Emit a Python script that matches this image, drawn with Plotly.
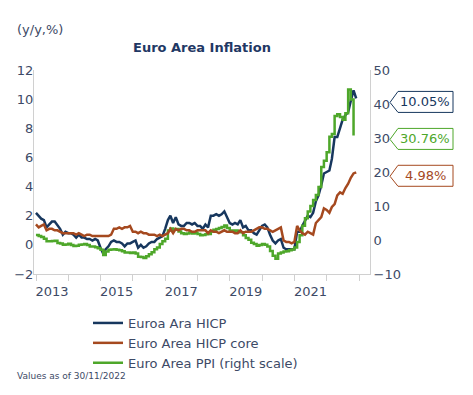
import pandas as pd
import plotly.graph_objects as go

# ---- data (monthly, month-end dates) ----
hicp_dates = pd.date_range("2012-12-31", "2022-11-30", freq="ME")
ppi_dates = pd.date_range("2012-12-31", "2022-10-31", freq="ME")

hicp = [2.2,
        2.0, 1.8, 1.7, 1.2, 1.4, 1.6, 1.6, 1.3, 1.1, 0.7, 0.9, 0.8,
        0.8, 0.7, 0.5, 0.7, 0.5, 0.5, 0.4, 0.4, 0.3, 0.4, 0.3, -0.2,
        -0.6, -0.3, -0.1, 0.2, 0.3, 0.2, 0.2, 0.1, -0.1, 0.1, 0.1, 0.2,
        0.3, -0.2, 0.0, -0.2, -0.1, 0.1, 0.2, 0.2, 0.4, 0.5, 0.6, 1.1,
        1.7, 2.0, 1.5, 1.9, 1.4, 1.3, 1.3, 1.5, 1.5, 1.4, 1.5, 1.3,
        1.3, 1.1, 1.4, 1.2, 2.0, 2.0, 2.1, 2.0, 2.1, 2.3, 1.9, 1.5,
        1.4, 1.5, 1.4, 1.7, 1.2, 1.3, 1.0, 1.0, 0.8, 0.7, 1.0, 1.3,
        1.4, 1.2, 0.7, 0.3, 0.1, 0.3, 0.4, -0.2, -0.3, -0.3, -0.3, -0.3,
        0.9, 0.9, 1.3, 1.6, 2.0, 1.9, 2.2, 3.0, 3.4, 4.1, 4.9, 5.0,
        5.1, 5.9, 7.4, 7.4, 8.1, 8.6, 8.9, 9.1, 9.9, 10.6, 10.05]

core = [1.4,
        1.2, 1.3, 1.4, 1.0, 1.1, 1.1, 1.0, 1.0, 0.9, 0.8, 0.8, 0.8,
        0.8, 0.8, 0.7, 0.8, 0.7, 0.6, 0.7, 0.7, 0.6, 0.6, 0.6, 0.6,
        0.6, 0.6, 0.6, 0.7, 1.1, 1.1, 1.2, 1.1, 1.2, 1.2, 1.3, 0.9,
        0.9, 0.8, 0.9, 0.8, 0.8, 0.7, 0.7, 0.7, 0.6, 0.7, 0.6, 0.7,
        0.8, 1.1, 0.8, 1.1, 1.0, 1.1, 1.1, 1.0, 1.0, 0.9, 0.9, 1.0,
        1.0, 1.0, 1.0, 0.8, 1.0, 0.9, 0.9, 0.8, 0.9, 1.0, 0.9, 0.9,
        0.9, 0.8, 0.8, 1.0, 0.8, 0.9, 0.9, 0.9, 1.0, 1.1, 1.2, 1.2,
        1.1, 1.1, 1.0, 0.9, 1.0, 1.1, 1.2, 0.3, 0.2, 0.2, 0.1, 0.2,
        1.3, 1.0, 0.8, 0.7, 0.9, 0.8, 0.7, 1.5, 1.7, 1.9, 2.5, 2.4,
        2.2, 2.6, 2.8, 3.4, 3.6, 3.5, 3.9, 4.2, 4.6, 4.9, 4.98]

ppi = [1.5,
       1.2, 0.9, 0.4, -0.4, -0.4, -0.3, -0.2, -0.9, -1.0, -1.4, -1.3, -1.1,
       -1.5, -1.8, -1.7, -1.4, -1.3, -1.2, -1.5, -1.9, -1.9, -2.1, -2.4, -2.9,
       -4.4, -3.4, -2.9, -2.8, -2.7, -2.9, -3.0, -3.3, -3.7, -3.7, -3.8, -3.7,
       -4.0, -4.9, -5.0, -5.3, -4.8, -4.2, -3.6, -2.7, -2.2, -1.2, -0.4, 0.4,
       2.8, 3.4, 3.0, 3.2, 2.5, 2.0, 1.8, 1.9, 2.2, 1.9, 2.1, 1.8,
       1.4, 1.5, 1.7, 1.8, 2.5, 3.0, 3.2, 3.5, 3.8, 4.3, 3.5, 2.8,
       2.7, 2.8, 2.6, 2.3, 1.4, 0.6, 0.1, -0.8, -1.2, -1.7, -1.5, -1.2,
       -1.4, -1.9, -3.2, -4.6, -5.5, -4.0, -3.7, -3.4, -3.3, -3.0, -2.8, -2.2,
       -0.6, 1.4, 4.2, 6.4, 8.4, 10.0, 11.8, 13.2, 15.6, 21.5, 23.3, 25.8,
       30.4, 31.2, 36.5, 37.0, 36.2, 35.4, 37.3, 44.3, 41.3, 30.76]

names = ["Euroa Ara HICP", "Euro Area HICP core", "Euro Area PPI (right scale)"]
last_labels = ["10.05%", "30.76%", "4.98%"]
year_labels = ["2013", "2015", "2017", "2019", "2021"]
tick_years = list(range(2013, 2024))

C_BLUE = "#17375e"
C_CORE = "#a5491f"
C_PPI = "#4ea72a"
TXT = "#3d4a66"
AXC = "#d0d0d0"
FONT = "DejaVu Sans"
XRANGE = ["2012-12-09", "2023-05-05"]

# page has an 8px body margin; figure is sized so that screen coords match
OFF = 8
W, H = 473 - 2 * OFF, 395 - 2 * OFF
PW, PH = 336, 204
L, T = 34 - OFF, 70 - OFF
R, B = W - L - PW, H - T - PH


def px(xs):
    return (xs - OFF - L) / PW


def py(ys):
    return (T + PH - (ys - OFF)) / PH


fig = go.Figure()
fig.add_trace(go.Scatter(x=hicp_dates, y=hicp, name=names[0], mode="lines",
                         line=dict(color=C_BLUE, width=2.5)))
fig.add_trace(go.Scatter(x=hicp_dates, y=core, name=names[1], mode="lines",
                         xaxis="x2", line=dict(color=C_CORE, width=2.5)))
fig.add_trace(go.Scatter(x=ppi_dates, y=ppi, name=names[2], mode="lines", yaxis="y2",
                         line=dict(color=C_PPI, width=2.5, shape="hv")))

fig.update_layout(
    width=W, height=H,
    margin=dict(l=L, r=R, t=T, b=B, autoexpand=False),
    paper_bgcolor="white", plot_bgcolor="white",
    font=dict(family=FONT, size=13, color=TXT),
    showlegend=True,
    legend=dict(xref="paper", yref="paper", x=px(88), y=py(308),
                xanchor="left", yanchor="top", font=dict(size=13, color=TXT),
                bgcolor="rgba(0,0,0,0)", tracegroupgap=0),
    # year-boundary tick marks
    xaxis=dict(range=XRANGE, showline=True, linecolor=AXC,
               linewidth=1, showgrid=False, zeroline=False,
               tickmode="array",
               tickvals=[f"{y}-01-01" for y in tick_years],
               ticktext=["" for _ in tick_years],
               ticks="outside", ticklen=6, tickwidth=1, tickcolor=AXC),
    # year labels centred in their year
    xaxis2=dict(range=XRANGE, overlaying="x", side="bottom", anchor="y",
                showline=False, showgrid=False, zeroline=False,
                tickmode="array",
                tickvals=[f"{y}-07-01" for y in year_labels],
                ticktext=year_labels, ticks="", tickangle=0,
                ticklabelstandoff=8,
                tickfont=dict(size=13, color=TXT)),
    yaxis=dict(range=[-2, 12], dtick=2, showline=True, linecolor=AXC,
               showgrid=False, zeroline=False, ticks="", ticklabelstandoff=-3,
               tickfont=dict(size=13, color=TXT)),
    yaxis2=dict(range=[-10, 50], dtick=10, overlaying="y", side="right",
                showline=True, linecolor=AXC, showgrid=False, zeroline=False,
                ticks="", tickfont=dict(size=13, color=TXT)),
)

fig.add_annotation(text="<b>Euro Area Inflation</b>", xref="paper", yref="paper",
                   x=0.5, y=py(48), yanchor="middle", showarrow=False,
                   font=dict(size=13, color="#1f3864"))
fig.add_annotation(text="(y/y,%)", xref="paper", yref="paper",
                   x=px(15), y=py(29), xanchor="left", yanchor="middle",
                   showarrow=False, font=dict(size=13, color=TXT))
fig.add_annotation(text="Values as of 30/11/2022", xref="paper", yref="paper",
                   x=px(15), y=py(376), xanchor="left", yanchor="middle",
                   showarrow=False, font=dict(size=9, color=TXT))

# callout boxes at the last values
callouts = [(hicp[-1], "y", C_BLUE, last_labels[0]),
            (ppi[-1], "y2", C_PPI, last_labels[1]),
            (core[-1], "y", C_CORE, last_labels[2])]
path = "M 20 -4 L 28 7 L 83 7 L 83 -14 L 28 -14 Z"
for val, yr, col, lab in callouts:
    fig.add_shape(type="path", xref="paper", yref=yr, xsizemode="pixel",
                  ysizemode="pixel", xanchor=1, yanchor=val, path=path,
                  layer="below", line=dict(color=col, width=1), fillcolor="white")
    fig.add_annotation(text=lab, xref="paper", yref=yr, x=1, y=val,
                       xanchor="center", yanchor="middle",
                       xshift=55, yshift=-3.5, showarrow=False,
                       font=dict(size=13, color=col))

fig.write_html("out.html")
